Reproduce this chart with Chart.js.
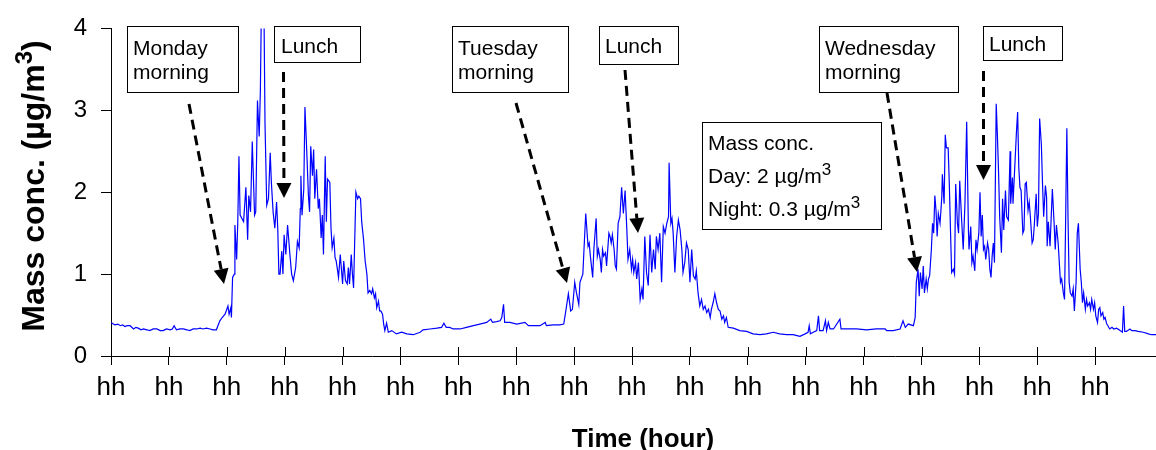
<!DOCTYPE html>
<html>
<head>
<meta charset="utf-8">
<script src="https://cdn.jsdelivr.net/npm/chart.js@4.4.1/dist/chart.umd.min.js"></script>
<style>
  html, body { margin: 0; padding: 0; background: #fff; }
  canvas { display: block; }
</style>
</head>
<body>
<canvas id="massChart" width="1156" height="450"></canvas>
<script>
// time axis (hours from start of record) and PM mass concentration (ug/m3)
var hours = [
  // monday night / early morning
  0.00,0.04,0.07,0.12,0.16,0.20,0.24,0.28,0.33,0.39,
  0.43,0.47,0.52,0.56,0.62,0.67,0.73,0.79,0.85,0.90,
  0.96,1.02,1.06,1.09,1.13,1.19,1.25,1.31,1.36,1.42,
  1.48,1.54,1.59,1.65,1.71,1.76,1.82,
  // monday day
  1.88,1.92,1.97,2.02,2.04,2.07,2.08,2.10,2.13,2.14,
  2.17,2.19,2.21,2.23,2.29,2.33,2.36,2.38,2.41,2.44,
  2.48,2.50,2.53,2.56,2.58,2.60,2.64,2.66,2.69,2.72,
  2.75,2.77,2.80,2.83,2.86,2.88,2.90,2.92,2.95,2.97,
  2.99,3.02,3.05,3.09,3.12,3.15,3.19,3.22,3.25,3.27,
  3.28,3.30,3.33,3.35,3.38,3.41,3.43,3.45,3.48,3.50,
  3.52,3.55,3.58,3.60,3.63,3.65,3.67,3.70,3.72,3.74,
  3.78,3.80,3.82,3.85,3.87,3.89,3.93,3.96,4.00,4.02,
  4.05,4.08,4.10,4.12,4.15,4.17,4.19,4.23,4.26,4.28,
  4.31,4.33,4.36,4.39,4.42,4.44,4.47,4.50,4.52,4.55,
  4.57,4.59,4.62,4.64,4.66,4.69,4.71,4.73,4.76,4.79,
  4.85,4.93,5.02,5.11,5.22,5.34,5.39,5.51,5.63,5.71,
  5.75,5.79,5.85,
  // tuesday
  5.91,6.03,6.14,6.26,6.37,6.49,6.56,6.59,6.66,6.72,
  6.75,6.78,6.80,6.89,7.01,7.15,7.21,7.29,7.41,7.50,
  7.52,7.64,7.75,7.82,7.86,7.90,7.94,7.97,8.01,8.04,
  8.08,8.10,8.15,8.17,8.20,8.24,8.26,8.28,8.32,8.34,
  8.38,8.40,8.42,8.45,8.47,8.49,8.51,8.54,8.56,8.60,
  8.62,8.64,8.66,8.69,8.71,8.73,8.76,8.79,8.82,8.85,
  8.88,8.91,8.93,8.96,8.99,9.01,9.03,9.06,9.08,9.11,
  9.14,9.17,9.19,9.22,9.25,9.28,9.31,9.34,9.37,9.40,
  9.42,9.45,9.48,9.51,9.54,9.57,9.60,9.63,9.64,9.67,
  9.69,9.71,9.74,9.77,9.80,9.83,9.86,9.88,9.91,9.94,
  9.97,10.00,10.03,10.06,10.09,10.11,10.14,10.17,10.20,10.23,
  10.26,10.29,10.32,10.35,10.37,10.40,10.43,10.46,10.49,10.52,
  10.55,10.58,10.60,10.63,10.66,10.75,10.86,10.98,11.09,11.21,
  11.32,11.44,11.55,
  // wednesday
  11.67,11.78,11.90,11.99,12.04,12.06,12.08,12.13,12.19,12.22,
  12.24,12.30,12.34,12.36,12.39,12.42,12.48,12.59,12.61,12.71,
  12.88,13.05,13.22,13.37,13.40,13.51,13.63,13.68,13.72,13.77,
  13.86,13.89,13.91,13.94,13.96,13.98,14.01,14.03,14.05,14.08,
  14.10,14.12,14.14,14.17,14.19,14.21,14.23,14.25,14.27,14.29,
  14.32,14.35,14.36,14.39,14.41,14.43,14.46,14.48,14.50,14.52,
  14.55,14.57,14.59,14.62,14.64,14.66,14.69,14.72,14.75,14.78,
  14.81,14.82,14.85,14.87,14.89,14.92,14.94,14.96,14.99,15.01,
  15.03,15.05,15.07,15.09,15.11,15.14,15.16,15.18,15.20,15.22,
  15.24,15.26,15.29,15.31,15.33,15.35,15.38,15.40,15.42,15.45,
  15.47,15.50,15.53,15.54,15.57,15.58,15.61,15.64,15.66,15.68,
  15.70,15.72,15.75,15.77,15.79,15.81,15.84,15.86,15.88,15.91,
  15.93,15.95,15.98,16.00,16.02,16.04,16.07,16.09,16.11,16.14,
  16.16,16.17,16.19,16.22,16.24,16.26,16.29,16.31,16.33,16.36,
  16.38,16.40,16.42,16.45,16.47,16.49,16.51,16.53,16.55,16.57,
  16.60,16.62,16.64,16.67,16.69,16.71,16.74,16.76,16.78,16.80,
  16.83,16.85,16.87,16.90,16.92,16.94,16.97,16.99,17.01,17.04,
  17.06,17.08,17.10,17.13,17.15,17.17,17.20,17.22,17.25,17.29,
  17.32,17.37,17.43,17.47,17.49,17.51,17.54,17.60,17.63,17.69,
  17.74,17.83,17.92,17.97,18.05
];

var massConc = [
  0.41,0.39,0.38,0.39,0.37,0.38,0.36,0.37,0.37,0.33,
  0.35,0.34,0.32,0.33,0.32,0.31,0.33,0.33,0.31,0.31,
  0.33,0.32,0.33,0.37,0.32,0.33,0.33,0.32,0.31,0.33,
  0.33,0.34,0.33,0.34,0.33,0.32,0.32,

  0.43,0.47,0.51,0.61,0.51,0.59,0.47,0.96,1.00,1.60,
  1.18,1.64,2.44,1.72,1.64,2.06,1.42,1.96,1.76,2.62,
  1.72,1.76,3.12,2.68,3.24,4.40,4.40,2.84,1.84,1.92,
  2.48,2.12,1.76,1.56,1.88,1.56,1.00,1.00,1.28,1.00,
  1.48,1.24,1.60,1.24,1.00,0.92,1.08,1.40,1.32,1.80,
  2.20,1.72,2.04,3.04,2.52,1.96,1.76,2.56,2.20,2.52,
  1.92,2.28,1.80,1.92,1.44,1.72,1.24,2.44,1.64,2.16,
  2.12,1.56,1.32,1.44,1.20,1.16,0.96,1.24,0.88,1.16,
  0.92,0.88,1.08,0.88,1.24,1.00,0.83,2.00,1.92,1.95,
  1.92,1.64,1.44,1.16,1.00,0.77,0.80,0.76,0.82,0.71,
  0.76,0.59,0.67,0.55,0.55,0.51,0.39,0.31,0.40,0.29,
  0.31,0.27,0.29,0.27,0.26,0.29,0.32,0.33,0.34,0.35,
  0.40,0.35,0.35,

  0.33,0.33,0.35,0.37,0.39,0.41,0.45,0.41,0.42,0.43,
  0.47,0.63,0.41,0.41,0.39,0.41,0.37,0.37,0.37,0.41,
  0.37,0.38,0.38,0.39,0.57,0.76,0.55,0.57,0.90,0.77,
  0.63,0.90,1.00,1.30,1.74,1.34,1.38,1.22,0.96,1.30,
  1.68,1.22,1.30,1.18,1.02,1.30,1.22,1.26,1.10,1.50,
  1.46,1.38,1.48,1.30,1.10,1.06,1.62,1.70,2.06,1.74,
  2.02,1.54,1.18,1.30,1.06,1.18,1.02,1.14,0.94,1.14,
  0.69,0.82,0.69,1.46,1.02,0.86,1.48,1.02,1.30,1.06,
  1.46,1.30,1.50,0.90,1.58,1.50,1.62,1.70,2.36,1.62,
  1.68,1.50,1.02,1.46,1.66,1.54,1.30,1.02,1.14,1.38,
  1.30,0.90,1.30,0.98,0.94,1.04,0.77,0.61,0.69,0.57,
  0.61,0.53,0.57,0.47,0.57,0.65,0.76,0.65,0.57,0.55,
  0.45,0.49,0.41,0.47,0.35,0.34,0.31,0.30,0.27,0.26,
  0.27,0.29,0.27,

  0.26,0.26,0.24,0.27,0.29,0.37,0.27,0.29,0.31,0.49,
  0.31,0.31,0.43,0.31,0.41,0.33,0.33,0.45,0.33,0.33,
  0.33,0.32,0.33,0.33,0.31,0.31,0.33,0.43,0.35,0.39,
  0.37,0.47,0.90,1.06,0.73,1.02,0.82,1.10,0.77,0.94,
  0.82,0.94,0.98,1.30,1.62,1.50,1.96,1.78,1.46,1.74,
  1.62,1.94,2.22,1.86,2.70,2.54,2.54,2.10,1.54,1.02,
  1.06,1.00,2.10,1.62,1.50,2.14,1.70,1.30,1.86,2.86,
  1.54,1.30,1.58,1.14,1.22,1.04,1.42,1.30,1.50,2.00,
  1.46,1.72,1.30,1.34,1.18,1.38,1.30,1.06,0.96,1.22,
  1.38,1.14,3.08,2.70,2.26,1.70,1.26,1.92,1.54,2.02,
  1.70,1.66,2.50,1.86,2.18,1.86,2.30,2.74,2.98,2.30,
  2.06,2.02,1.50,1.54,2.10,2.12,1.78,1.88,1.70,1.38,
  1.42,1.62,1.98,1.58,1.74,2.90,2.58,2.10,1.70,2.08,
  1.94,1.34,1.64,1.34,1.70,2.04,1.62,1.30,1.60,1.38,
  1.14,0.90,0.94,0.77,0.69,1.70,2.78,1.70,0.90,0.77,
  0.73,0.82,0.55,0.90,1.50,1.62,1.06,0.90,0.65,0.77,
  0.57,0.69,0.61,0.65,0.57,0.69,0.57,0.65,0.49,0.41,
  0.57,0.59,0.49,0.53,0.45,0.47,0.39,0.37,0.33,0.35,
  0.33,0.34,0.31,0.29,0.61,0.30,0.30,0.33,0.31,0.31,
  0.30,0.29,0.27,0.26,0.26
];

var xTickLabels = ['hh','hh','hh','hh','hh','hh','hh','hh','hh',
                   'hh','hh','hh','hh','hh','hh','hh','hh','hh'];
var yTickValues = [0, 1, 2, 3, 4];

var FONT = '"Liberation Sans", Arial, Helvetica, sans-serif';

// text boxes + dashed arrows (canvas pixels)
var callouts = [
  { lines: ['Monday', 'morning'], box: [127, 26.5, 111, 66], text: [133, 55], from: [189, 104], to: [224, 284] },
  { lines: ['Lunch'], box: [274, 26.5, 86, 36], text: [281, 53], from: [283.5, 72], to: [284, 198] },
  { lines: ['Tuesday', 'morning'], box: [452, 26.5, 116, 66], text: [458, 55], from: [516, 103], to: [567, 283] },
  { lines: ['Lunch'], box: [599, 26.5, 79, 38], text: [605, 53], from: [625, 70], to: [638, 233] },
  { lines: ['Wednesday', 'morning'], box: [819, 26.5, 139, 66], text: [825, 55], from: [887, 93], to: [917, 272] },
  { lines: ['Lunch'], box: [983, 26.5, 79, 34], text: [989, 51], from: [983.5, 71], to: [983.5, 180] }
];

var summaryBox = { box: [702, 122, 179, 107], x: 708,
  lines: [['Mass conc.', ''], ['Day: 2 \u00b5g/m', '3'], ['Night: 0.3 \u00b5g/m', '3']],
  baselines: [150, 183, 216] };

function drawSup(ctx, main, sup, x, y, size, bold, supScale) {
  var w = 0;
  ctx.font = (bold ? 'bold ' : '') + size + 'px ' + FONT;
  ctx.fillText(main, x, y);
  w = ctx.measureText(main).width;
  if (sup) {
    ctx.font = (bold ? 'bold ' : '') + Math.round(size * (supScale || 0.75)) + 'px ' + FONT;
    ctx.fillText(sup, x + w, y - size * 0.38);
    w += ctx.measureText(sup).width;
  }
  return w;
}

function dashedArrow(ctx, a, b) {
  var dx = b[0] - a[0], dy = b[1] - a[1];
  var len = Math.sqrt(dx * dx + dy * dy);
  var ux = dx / len, uy = dy / len;
  var head = 15, half = 7.5;
  var bx = b[0] - ux * head, by = b[1] - uy * head;
  ctx.save();
  ctx.strokeStyle = '#000';
  ctx.lineWidth = 3;
  ctx.setLineDash([10, 6]);
  ctx.beginPath();
  ctx.moveTo(a[0], a[1]);
  ctx.lineTo(bx, by);
  ctx.stroke();
  ctx.setLineDash([]);
  ctx.fillStyle = '#000';
  ctx.beginPath();
  ctx.moveTo(b[0], b[1]);
  ctx.lineTo(bx - uy * half, by + ux * half);
  ctx.lineTo(bx + uy * half, by - ux * half);
  ctx.closePath();
  ctx.fill();
  ctx.restore();
}

var decorPlugin = {
  id: 'decor',
  afterDraw: function(chart) {
    var ctx = chart.ctx;
    var xs = chart.scales.x;
    var area = chart.chartArea;
    ctx.save();

    // x ticks cross the axis: draw the inside half
    ctx.strokeStyle = '#000';
    ctx.lineWidth = 1;
    xs.ticks.forEach(function(t) {
      var px = Math.round(xs.getPixelForValue(t.value)) + 0.5;
      ctx.beginPath();
      ctx.moveTo(px, area.bottom - 9);
      ctx.lineTo(px, area.bottom);
      ctx.stroke();
    });

    ctx.fillStyle = '#000';
    ctx.textBaseline = 'alphabetic';
    ctx.textAlign = 'left';

    callouts.forEach(function(c) {
      ctx.fillStyle = '#fff';
      ctx.fillRect(c.box[0], c.box[1], c.box[2], c.box[3]);
      ctx.strokeStyle = '#000';
      ctx.lineWidth = 1;
      ctx.strokeRect(c.box[0] + 0.5, c.box[1], c.box[2], c.box[3]);
      ctx.fillStyle = '#000';
      ctx.font = '21px ' + FONT;
      c.lines.forEach(function(l, i) {
        ctx.fillText(l, c.text[0], c.text[1] + i * 23.5);
      });
      dashedArrow(ctx, c.from, c.to);
    });

    var sb = summaryBox;
    ctx.fillStyle = '#fff';
    ctx.fillRect(sb.box[0], sb.box[1], sb.box[2], sb.box[3]);
    ctx.strokeStyle = '#000';
    ctx.strokeRect(sb.box[0] + 0.5, sb.box[1] + 0.5, sb.box[2], sb.box[3]);
    ctx.fillStyle = '#000';
    sb.lines.forEach(function(l, i) {
      drawSup(ctx, l[0], l[1], sb.x, sb.baselines[i], 21, false, 0.8);
    });

    // y axis title with superscript
    ctx.save();
    ctx.translate(44, 186);
    ctx.rotate(-Math.PI / 2);
    ctx.font = 'bold 32px ' + FONT;
    var w1 = ctx.measureText('Mass conc. (\u00b5g/m').width;
    var w3 = ctx.measureText(')').width;
    ctx.font = 'bold 24px ' + FONT;
    var w2 = ctx.measureText('3').width;
    var x0 = -(w1 + w2 + w3) / 2;
    var w = drawSup(ctx, 'Mass conc. (\u00b5g/m', '3', x0, 0, 32, true, 0.75);
    ctx.font = 'bold 32px ' + FONT;
    ctx.fillText(')', x0 + w, 0);
    ctx.restore();

    // x axis title
    ctx.font = 'bold 26px ' + FONT;
    ctx.textAlign = 'center';
    ctx.fillText('Time (hour)', 643, 447);

    ctx.restore();
  }
};

var points = hours.map(function(h, i) { return { x: h, y: massConc[i] }; });

new Chart(document.getElementById('massChart'), {
  type: 'line',
  data: {
    datasets: [{
      data: points,
      borderColor: '#0000ff',
      borderWidth: 1.2,
      pointRadius: 0,
      tension: 0,
      fill: false
    }]
  },
  options: {
    responsive: false,
    animation: false,
    devicePixelRatio: 1,
    layout: { padding: { top: 24, right: 0, left: 0, bottom: 0 } },
    plugins: { legend: { display: false }, tooltip: { enabled: false } },
    scales: {
      x: {
        type: 'linear',
        min: 0,
        max: 18.05,
        afterBuildTicks: function(scale) {
          scale.ticks = xTickLabels.map(function(l, i) { return { value: i }; });
        },
        afterFit: function(scale) { scale.height = 94; },
        border: { display: true, color: '#000', width: 1 },
        grid: { display: true, drawOnChartArea: false, drawTicks: true, tickLength: 9, color: '#000' },
        ticks: {
          color: '#000',
          font: { family: FONT, size: 26 },
          padding: 7,
          maxRotation: 0,
          autoSkip: false,
          callback: function(v) { return xTickLabels[v] || ''; }
        }
      },
      y: {
        min: 0,
        max: 4,
        afterBuildTicks: function(scale) {
          scale.ticks = yTickValues.map(function(v) { return { value: v }; });
        },
        afterFit: function(scale) { scale.width = 111; },
        border: { display: true, color: '#000', width: 1 },
        grid: { display: true, drawOnChartArea: false, drawTicks: true, tickLength: 10, color: '#000' },
        ticks: {
          color: '#000',
          font: { family: FONT, size: 24 },
          padding: 14,
          callback: function(v) { return String(v); }
        }
      }
    }
  },
  plugins: [decorPlugin]
});
</script>
</body>
</html>
